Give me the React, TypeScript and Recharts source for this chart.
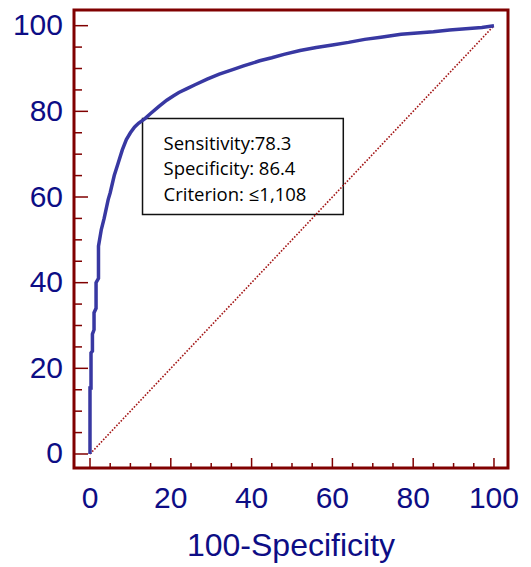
import React from 'react';
import {
  ComposedChart,
  Line,
  XAxis,
  YAxis,
  ReferenceArea,
} from 'recharts';

// ROC curve points (100-Specificity, Sensitivity)
const fpr = [
  0, 0, 0.25, 0.25, 0.6, 0.6, 1.0, 1.0, 1.5, 1.5, 2.1, 2.1, 2.8, 3.5, 4.5, 5, 6, 7, 8, 9,
  10, 11, 12, 13.6, 15, 17, 19, 20.6, 22, 24, 26, 29, 32, 35.5, 38, 40, 42, 45, 48, 52,
  56, 60, 64, 68, 72, 77, 81, 85, 89, 93, 97, 100,
];
const tpr = [
  0, 15.4, 15.4, 23.6, 24, 28, 29, 33, 34, 40, 41, 48.5, 52.4, 55, 59.4, 61, 65, 68, 71, 73.4,
  75, 76.3, 77.2, 78.3, 79.5, 81.1, 82.6, 83.6, 84.4, 85.3, 86.2, 87.5, 88.7, 89.8, 90.6, 91.2,
  91.8, 92.5, 93.3, 94.2, 94.9, 95.5, 96.1, 96.8, 97.3, 98, 98.3, 98.6, 99, 99.3, 99.6, 100,
];

// chance line
const diagX = [0, 100];
const diagY = [0, 100];

const tickValues = [0, 5, 10, 15, 20, 25, 30, 35, 40, 45, 50, 55, 60, 65, 70, 75, 80, 85, 90, 95, 100];
const labelStep = 20;
const xTitle = '100-Specificity';

// criterion box corners (data units)
const boxX = [13, 62.7];
const boxY = [55.9, 78.3];
const boxLines = ['Sensitivity:78.3', 'Specificity: 86.4', 'Criterion: \u22641,108'];

const xDomain = [-3.96, 103.47];
const yDomain = [-3.27, 103.66];

const W = 531;
const H = 567;
const X_AXIS_H = 99;
const Y_AXIS_W = 74;
const PLOT_BOTTOM = H - X_AXIS_H;
const PLOT_LEFT = Y_AXIS_W;

const FRAME = '#800000';
const NAVY = '#0d0d85';
const CURVE = '#3838a2';
const FONT = "'Liberation Sans', Arial, sans-serif";

const rocData = fpr.map((x, i) => ({ x, y: tpr[i] }));
const diagData = diagX.map((x, i) => ({ x, y: diagY[i] }));

const XTick = (props: any) => {
  const { x, payload } = props;
  const major = payload.value % labelStep === 0;
  return (
    <g>
      <line x1={x} x2={x} y1={PLOT_BOTTOM} y2={PLOT_BOTTOM - (major ? 10 : 5)} stroke={FRAME} strokeWidth={1.5} />
      {major && (
        <text
          x={x}
          y={PLOT_BOTTOM + 29}
          textAnchor="middle"
          dominantBaseline="central"
          fill={NAVY}
          fontSize={30}
          fontFamily={FONT}
        >
          {payload.value}
        </text>
      )}
    </g>
  );
};

const YTick = (props: any) => {
  const { y, payload } = props;
  const major = payload.value % labelStep === 0;
  return (
    <g>
      <line x1={PLOT_LEFT} x2={PLOT_LEFT + (major ? 14 : 8)} y1={y} y2={y} stroke={FRAME} strokeWidth={1.5} />
      {major && (
        <text
          x={PLOT_LEFT - 11}
          y={y - 1}
          textAnchor="end"
          dominantBaseline="central"
          fill={NAVY}
          fontSize={30}
          fontFamily={FONT}
        >
          {payload.value}
        </text>
      )}
    </g>
  );
};

const XTitle = (props: any) => {
  const { viewBox } = props;
  return (
    <text
      x={viewBox.x + viewBox.width / 2}
      y={PLOT_BOTTOM + 77}
      textAnchor="middle"
      dominantBaseline="central"
      fill={NAVY}
      fontSize={32}
      fontFamily={FONT}
    >
      {xTitle}
    </text>
  );
};

const BoxLabel = (props: any) => {
  const { viewBox } = props;
  const { x, y } = viewBox;
  const offsets = [23.5, 49, 74.5];
  return (
    <g>
      {boxLines.map((t, i) => (
        <text
          key={t}
          x={x + 21}
          y={y + offsets[i]}
          dominantBaseline="central"
          fill="#000"
          fontSize={18.5}
          fontFamily="'Open Sans', Lato, sans-serif"
        >
          {t}
        </text>
      ))}
    </g>
  );
};

export default function App() {
  return (
    <div style={{ position: 'absolute', left: 0, top: 0, background: '#fff' }}>
      <ComposedChart
        width={W}
        height={H}
        data={rocData}
        margin={{ top: 10, right: 23, bottom: 0, left: 0 }}
      >
        <XAxis
          xAxisId="b"
          dataKey="x"
          type="number"
          domain={xDomain}
          ticks={tickValues}
          interval={0}
          allowDataOverflow
          height={X_AXIS_H}
          tickSize={0}
          tickMargin={0}
          tickLine={false}
          axisLine={false}
          tick={<XTick />}
          label={<XTitle />}
        />
        <YAxis
          yAxisId="l"
          type="number"
          domain={yDomain}
          ticks={tickValues}
          interval={0}
          allowDataOverflow
          width={Y_AXIS_W}
          tickSize={0}
          tickMargin={0}
          tickLine={false}
          axisLine={false}
          tick={<YTick />}
        />
        <Line
          xAxisId="b"
          yAxisId="l"
          data={diagData}
          dataKey="y"
          stroke="#a31515"
          strokeWidth={1.6}
          strokeDasharray="1.6 1.6"
          dot={false}
          isAnimationActive={false}
        />
        <ReferenceArea
          xAxisId="b"
          yAxisId="l"
          x1={boxX[0]}
          x2={boxX[1]}
          y1={boxY[0]}
          y2={boxY[1]}
          fill="#fff"
          fillOpacity={1}
          stroke="#111"
          strokeWidth={1.5}
          label={<BoxLabel />}
        />
        <Line
          xAxisId="b"
          yAxisId="l"
          dataKey="y"
          type="linear"
          stroke={CURVE}
          strokeWidth={3.5}
          dot={false}
          isAnimationActive={false}
        />
        {/* plot frame */}
        <ReferenceArea
          xAxisId="b"
          yAxisId="l"
          x1={xDomain[0]}
          x2={xDomain[1]}
          y1={yDomain[0]}
          y2={yDomain[1]}
          fill="none"
          stroke={FRAME}
          strokeWidth={3}
        />
      </ComposedChart>
    </div>
  );
}
